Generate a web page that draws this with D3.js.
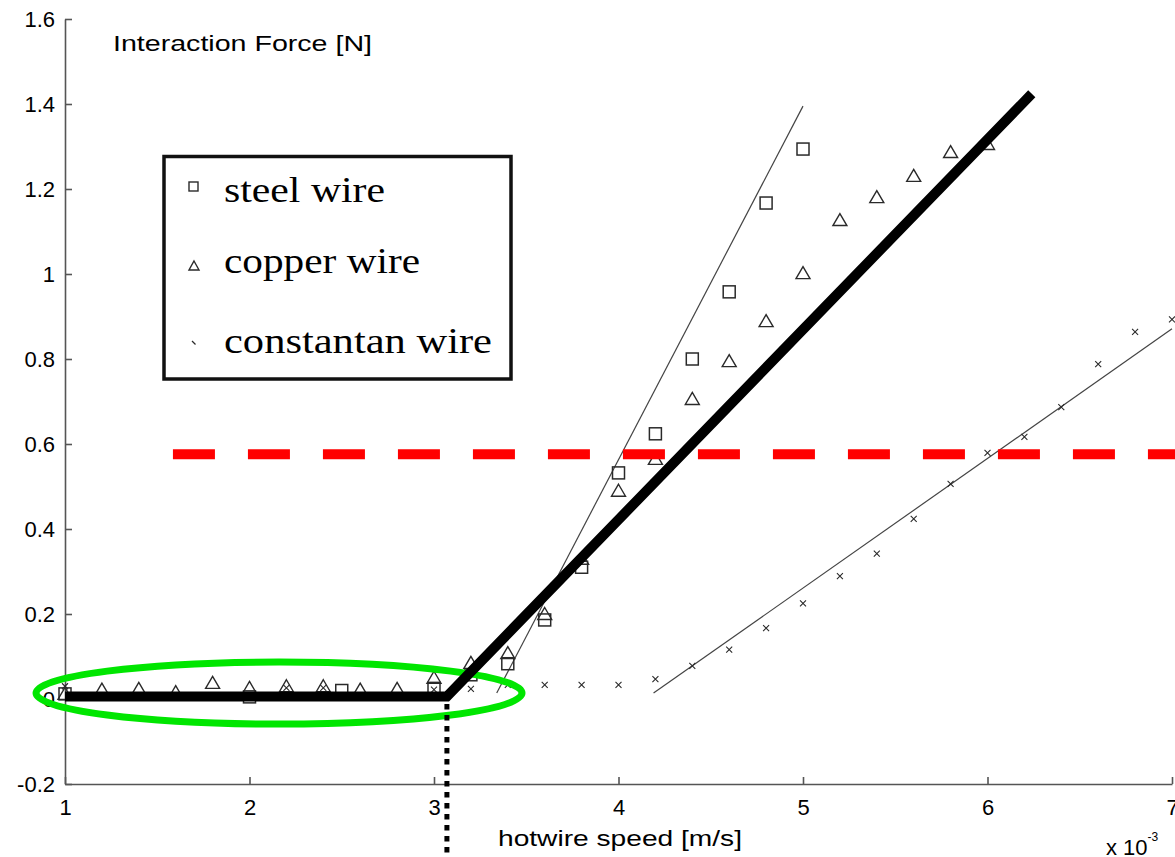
<!DOCTYPE html>
<html>
<head>
<meta charset="utf-8">
<script src="https://cdn.jsdelivr.net/npm/d3@7"></script>
<style>
  body { margin: 0; background: #fff; }
  svg { display: block; }
  .tick text { font-family: "Liberation Sans", Arial, sans-serif; font-size: 22px; fill: #000; }
  .lbl { font-family: "Liberation Sans", Arial, sans-serif; fill: #000; }
  .leg { font-family: "Liberation Serif", "Times New Roman", serif; font-size: 36px; fill: #000; }
</style>
</head>
<body>
<svg width="1175" height="857"></svg>
<script>
// hotwire speed (x 10^-3 m/s) and interaction force [N]
const steelX = [1.0, 2.0, 2.5, 3.0, 3.2, 3.4, 3.6, 3.8, 4.0, 4.2, 4.4, 4.6, 4.8, 5.0];
const steelF = [0.012, 0.005, 0.02, 0.025, 0.057, 0.083, 0.186, 0.31, 0.532, 0.624, 0.80, 0.958, 1.167, 1.294];

const copperX = [1.0, 1.2, 1.4, 1.6, 1.8, 2.0, 2.2, 2.4, 2.6, 2.8, 3.0, 3.2, 3.4, 3.6, 3.8,
                 4.0, 4.2, 4.4, 4.6, 4.8, 5.0, 5.2, 5.4, 5.6, 5.8, 6.0];
const copperF = [0.012, 0.022, 0.024, 0.016, 0.038, 0.026, 0.030, 0.030, 0.022, 0.024, 0.05, 0.085, 0.108, 0.20, 0.33,
                 0.49, 0.565, 0.706, 0.795, 0.889, 1.002, 1.127, 1.181, 1.231, 1.287, 1.306];

const constantanX = [1.0, 1.2, 1.4, 1.6, 1.8, 2.0, 2.2, 2.4, 2.6, 2.8, 3.0, 3.2, 3.4, 3.6, 3.8, 4.0,
                     4.2, 4.4, 4.6, 4.8, 5.0, 5.2, 5.4, 5.6, 5.8, 6.0, 6.2, 6.4, 6.6, 6.8, 7.0];
const constantanF = [0.03, 0.008, 0.008, 0.008, 0.008, 0.008, 0.026, 0.026, 0.008, 0.008, 0.022, 0.024, 0.033, 0.033, 0.033, 0.033,
                     0.047, 0.078, 0.116, 0.167, 0.225, 0.289, 0.342, 0.424, 0.506, 0.579, 0.617, 0.687, 0.788, 0.864, 0.893];

// fitted lines
const steelFitX = [3.34, 5.0];
const steelFitF = [0.014, 1.395];
const constantanFitX = [4.19, 7.0];
const constantanFitF = [0.014, 0.871];

// piecewise model (thick black) and threshold (red dashed)
const modelX = [1.0, 3.07, 6.24];
const modelF = [0.006, 0.006, 1.424];
const thresholdF = 0.576;
const thresholdX = [1.585, 7.02];
const kneeX = 3.07;

// highlighted region
const ringCenter = [2.16, 0.014];
const ringRadius = [1.317, 0.073];

const xTicks = [1, 2, 3, 4, 5, 6, 7];
const yTicks = [-0.2, 0, 0.2, 0.4, 0.6, 0.8, 1, 1.2, 1.4, 1.6];

const legendItems = ["steel wire", "copper wire", "constantan wire"];

const svg = d3.select("svg");

const x = d3.scaleLinear().domain([1, 7]).range([65, 1172]);
const y = d3.scaleLinear().domain([-0.2, 1.6]).range([784, 19]);

// axes
const xAxis = svg.append("g")
    .attr("transform", `translate(0,${y(-0.2)})`)
    .call(d3.axisBottom(x).tickValues(xTicks).tickSizeInner(-7).tickSizeOuter(0).tickFormat(d3.format("d")));
xAxis.selectAll("text").attr("y", 31).attr("dy", 0);

const yAxis = svg.append("g")
    .attr("transform", `translate(${x(1)},0)`)
    .call(d3.axisLeft(y).tickValues(yTicks).tickSizeInner(-7).tickSizeOuter(0)
        .tickFormat(d => String(+d.toFixed(1))));
yAxis.selectAll("text").attr("x", -10);

svg.selectAll(".domain, .tick line").attr("stroke", "#555").attr("stroke-width", 1.6);

svg.append("text").attr("class", "lbl")
    .attr("x", 113).attr("y", 51).attr("font-size", 22)
    .attr("textLength", 259).attr("lengthAdjust", "spacingAndGlyphs")
    .text("Interaction Force [N]");

svg.append("text").attr("class", "lbl")
    .attr("x", 498).attr("y", 846).attr("font-size", 22)
    .attr("textLength", 244).attr("lengthAdjust", "spacingAndGlyphs")
    .text("hotwire speed [m/s]");

const expo = svg.append("text").attr("class", "lbl").attr("x", 1106).attr("y", 855).attr("font-size", 22);
expo.append("tspan").text("x 10");
expo.append("tspan").attr("font-size", 12).attr("dy", -14).text("-3");

const line = d3.line().x(d => x(d[0])).y(d => y(d[1]));

// fitted thin lines
svg.append("path")
    .attr("d", line(d3.zip(steelFitX, steelFitF)))
    .attr("fill", "none").attr("stroke", "#444").attr("stroke-width", 1.2);
svg.append("path")
    .attr("d", line(d3.zip(constantanFitX, constantanFitF)))
    .attr("fill", "none").attr("stroke", "#444").attr("stroke-width", 1.2);

// markers
const markColor = "#2a2a2a";
svg.append("g").selectAll("path")
    .data(d3.zip(constantanX, constantanF))
    .join("path")
    .attr("transform", d => `translate(${x(d[0])},${y(d[1])})`)
    .attr("d", "M-3,-3L3,3M-3,3L3,-3")
    .attr("stroke", markColor).attr("stroke-width", 1.1);

svg.append("g").selectAll("path")
    .data(d3.zip(copperX, copperF))
    .join("path")
    .attr("transform", d => `translate(${x(d[0])},${y(d[1])})`)
    .attr("d", "M0,-6.5L7,5.5H-7Z")
    .attr("fill", "none").attr("stroke", markColor).attr("stroke-width", 1.4);

svg.append("g").selectAll("rect")
    .data(d3.zip(steelX, steelF))
    .join("rect")
    .attr("x", d => x(d[0]) - 6).attr("y", d => y(d[1]) - 6)
    .attr("width", 12).attr("height", 12)
    .attr("fill", "none").attr("stroke", markColor).attr("stroke-width", 1.5);

// threshold
svg.append("line")
    .attr("x1", x(thresholdX[0])).attr("x2", x(thresholdX[1]))
    .attr("y1", y(thresholdF)).attr("y2", y(thresholdF))
    .attr("stroke", "#ff0000").attr("stroke-width", 10)
    .attr("stroke-dasharray", "42,33");

// green ring
svg.append("ellipse")
    .attr("cx", x(ringCenter[0])).attr("cy", y(ringCenter[1]))
    .attr("rx", x(ringCenter[0] + ringRadius[0]) - x(ringCenter[0]))
    .attr("ry", y(ringCenter[1] - ringRadius[1]) - y(ringCenter[1]))
    .attr("fill", "none").attr("stroke", "#00e600").attr("stroke-width", 7);

// thick model line
svg.append("path")
    .attr("d", line(d3.zip(modelX, modelF)))
    .attr("fill", "none").attr("stroke", "#000").attr("stroke-width", 10)
    .attr("stroke-linejoin", "miter");

// knee marker (dotted)
svg.append("line")
    .attr("x1", x(kneeX)).attr("x2", x(kneeX))
    .attr("y1", y(-0.012)).attr("y2", y(-0.4))
    .attr("stroke", "#000").attr("stroke-width", 5)
    .attr("stroke-dasharray", "5.5,5.5");

// legend
const leg = svg.append("g");
leg.append("rect")
    .attr("x", 164).attr("y", 156.5).attr("width", 347).attr("height", 222.5)
    .attr("fill", "#fff").attr("stroke", "#111").attr("stroke-width", 3.5);

const legY = [202, 273, 353];
const legLen = [161, 196, 268];
leg.selectAll("text.leg")
    .data(legendItems)
    .join("text").attr("class", "leg")
    .attr("x", 224).attr("y", (d, i) => legY[i])
    .attr("textLength", (d, i) => legLen[i]).attr("lengthAdjust", "spacingAndGlyphs")
    .text(d => d);

leg.append("rect").attr("x", 189).attr("y", 182).attr("width", 9).attr("height", 9)
    .attr("fill", "none").attr("stroke", markColor).attr("stroke-width", 1.4);
leg.append("path").attr("transform", "translate(194,266)").attr("d", "M0,-5L5,4H-5Z")
    .attr("fill", "none").attr("stroke", markColor).attr("stroke-width", 1.4);
leg.append("path").attr("transform", "translate(194,343)").attr("d", "M-2,-2L1.5,1.5")
    .attr("stroke", markColor).attr("stroke-width", 1.3);
</script>
</body>
</html>
